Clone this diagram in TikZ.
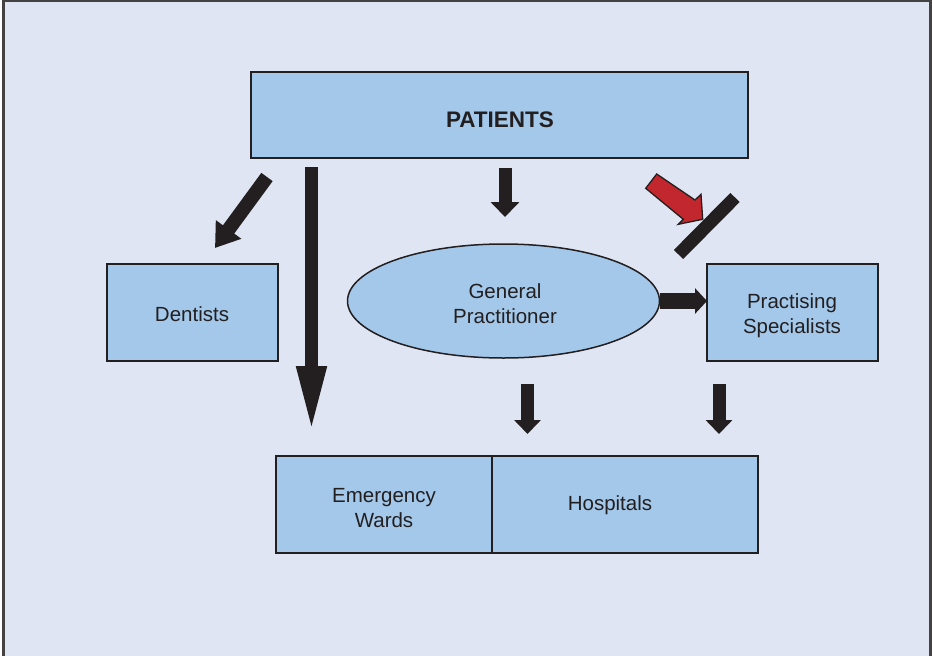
\documentclass[tikz,border=0pt]{standalone}
\usepackage{fontspec}
\setmainfont{Liberation Sans}
\usetikzlibrary{arrows.meta,shapes.geometric}
\definecolor{bg}{HTML}{DFE5F2}
\definecolor{boxfill}{HTML}{A3C8EA}
\definecolor{ink}{HTML}{231F20}
\definecolor{redarrow}{HTML}{C1272D}
\begin{document}
\begin{tikzpicture}[x=1pt,y=-1pt,
  box/.style={draw=ink, line width=1.5pt, fill=boxfill, inner sep=0pt, outer sep=0pt},
  lbl/.style={inner sep=0pt, align=center, text=ink, font=\fontsize{20.5}{25}\selectfont},
  blockarrow/.style={draw=ink, fill=ink, line cap=butt},
  redblock/.style={draw=ink, fill=redarrow, line width=1.3pt, line join=miter}]
\useasboundingbox (0,0) rectangle (932,656);
% background
\fill[bg] (3,0) rectangle (932,656);
\draw[ink!85, line width=2.5pt] (3.5,656) -- (3.5,1) -- (930.5,1) -- (930.5,656);

% boxes
\node[box, minimum width=497, minimum height=86] (pat) at (499.5,115) {};
\node[lbl, font=\fontsize{22.5}{25}\bfseries] (patl) at (500,119.5) {PATIENTS};
\node[box, minimum width=171, minimum height=97] (den) at (192.5,312.5) {};
\node[lbl] (denl) at (192,314) {Dentists};
\node[box, ellipse, minimum width=312, minimum height=114] (gp) at (503.5,301) {};
\node[lbl] (gpl) at (505,304) {General\\Practitioner};
\node[box, minimum width=171, minimum height=97] (ps) at (792.5,312.5) {};
\node[lbl] (psl) at (792,316) {Practising\\Specialists};
\node[box, minimum width=216, minimum height=97, anchor=north west] (ew) at (276,456) {};
\node[box, minimum width=266, minimum height=97, anchor=north west] (ho) at (492,456) {};
\node[lbl] (ewl) at (384,508) {Emergency\\Wards};
\node[lbl] (hol) at (610,505) {Hospitals};

% arrow coordinates
\coordinate (dA) at (267,177);
\coordinate (dB) at (215,248);
\coordinate (lA) at (311.5,167);
\coordinate (lB) at (311.5,434);
\coordinate (gA) at (505,168);
\coordinate (gB) at (505,217);
\coordinate (h1A) at (527.5,384);
\coordinate (h1B) at (527.5,434);
\coordinate (h2A) at (719,384);
\coordinate (h2B) at (719,434);
\coordinate (bA) at (678.5,254.5);
\coordinate (bB) at (735,197.5);
% red arrow outline points
\coordinate (r1) at (656.7,174);
\coordinate (r2) at (695,200);
\coordinate (r3) at (701,194.3);
\coordinate (r4) at (702.7,219.3);
\coordinate (r5) at (678.3,224.3);
\coordinate (r6) at (683.3,219.3);
\coordinate (r7) at (645.7,188.3);

% block arrows
\draw[blockarrow, line width=14pt, -{Triangle[width=30pt,length=23pt]}] (dA) -- (dB);
\draw[blockarrow, line width=13pt, -{Triangle[width=27pt,length=68pt]}] (lA) -- (lB);
\draw[blockarrow, line width=13pt, -{Triangle[width=28pt,length=15pt]}] (gA) -- (gB);
\draw[blockarrow, line width=13pt, -{Triangle[width=26pt,length=14pt]}] (h1A) -- (h1B);
\draw[blockarrow, line width=13pt, -{Triangle[width=26pt,length=14pt]}] (h2A) -- (h2B);
\draw[blockarrow, line width=16pt, -{Triangle[width=25pt,length=12pt]}] (gp.east) -- (gp.east -| ps.west);
% red arrow
\draw[redblock] (r1) -- (r2) -- (r3) -- (r4) -- (r5) -- (r6) -- (r7) -- cycle;
% blocking bar
\draw[ink, line width=13pt, line cap=butt] (bA) -- (bB);
\end{tikzpicture}
\end{document}
